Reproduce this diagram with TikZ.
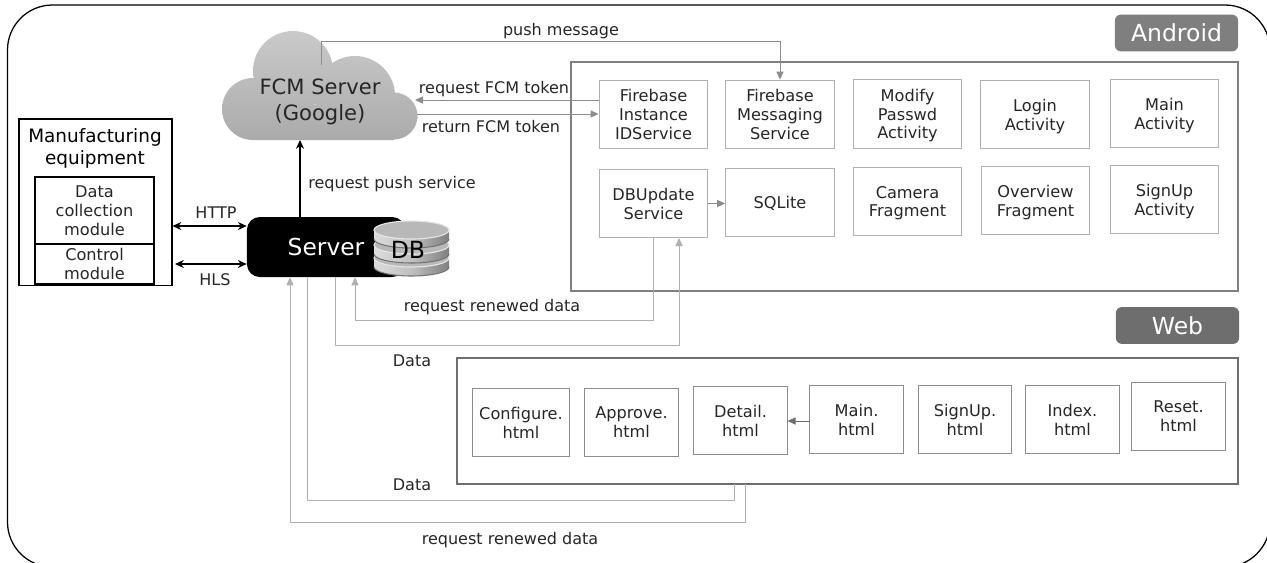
\documentclass[tikz,border=0pt]{standalone}
\usepackage{fontspec}
\usepackage{xcolor}
\usepackage{tikz}
\setmainfont{DejaVu Sans}
\usetikzlibrary{shapes,arrows,positioning,calc,arrows.meta}

\definecolor{linkgray}{HTML}{B0B0B0}
\definecolor{pushgray}{HTML}{8C8C8C}
\definecolor{framegray}{HTML}{7F7F7F}
\definecolor{webgray}{HTML}{6E6E6E}
\definecolor{textgray}{HTML}{262626}

\pgfdeclarehorizontalshading{dbside}{100bp}{
    color(0bp)=(black!42); color(22bp)=(black!12); color(50bp)=(black!25);
    color(80bp)=(black!55); color(100bp)=(black!68)}

\tikzset{
    compbox/.style={draw=linkgray, line width=0.75pt, minimum width=2.72cm, minimum height=1.72cm, inner sep=0pt, align=center, text depth=0pt, text=textgray, font=\fontsize{11.5}{13.4}\selectfont},
    webbox/.style={compbox, draw=pushgray, minimum width=2.33cm},
    tagbox/.style={rounded corners=0.15cm, minimum width=3.08cm, minimum height=0.92cm, inner sep=0pt, text=white, font=\fontsize{16.7}{19}\selectfont},
    linklabel/.style={inner sep=0pt, text=textgray, font=\fontsize{11.4}{13}\selectfont},
    graylink/.style={draw=linkgray, line width=0.7pt, -{Triangle[length=2mm,width=1.8mm]}},
    grayline/.style={draw=linkgray, line width=0.7pt},
    blacklink/.style={draw=black, line width=0.75pt, {Stealth[length=2.2mm,width=2mm]}-{Stealth[length=2.2mm,width=2mm]}}
}

\begin{document}
\begin{tikzpicture}[x=0.025cm, y=-0.025cm]
    \useasboundingbox (0,0) rectangle (1267,562);
    \clip (0,0) rectangle (1267,562);
    \draw[line width=0.9pt, rounded corners=1.125cm] (7.5,5) rectangle (1270,567);

    % Cloud
    \shade[top color=black!21, bottom color=black!33]
        (253,109) circle[radius=31] (293,71) circle[radius=40]
        (355,96) circle[radius=40] (394,116) circle[radius=23.5]
        (253,105) -- (394,105) -- (394,140) -- (253,140) -- cycle;
    \node[inner sep=0pt, align=center, text=textgray, font=\fontsize{15}{18.6}\selectfont] (fcm) at (320,102) {FCM Server\\(Google)};

    % Manufacturing equipment
    \node[draw, line width=0.75pt, minimum width=3.825cm, minimum height=4.15cm] (equipment) at (95.5,202) {};
    \node[inner sep=0pt, align=center, text=black, font=\fontsize{13.1}{15.6}\selectfont] (equiptitle) at (95,148) {Manufacturing\\equipment};
    \node[compbox, draw=black, minimum width=2.975cm, minimum height=1.675cm] (collect) at (94.5,210.5) {Data\\collection\\module};
    \node[compbox, draw=black, minimum width=2.975cm, minimum height=1cm] (control) at (94.5,264) {Control\\module};

    % Server and DB
    \node[fill=black, rounded corners=0.32cm, minimum width=3.95cm, minimum height=1.5cm, inner sep=0pt, text=white, font=\fontsize{16.6}{19}\selectfont] (server) at (326,247) {Server};
    \foreach \y in {258,245,230} {
        \shade[shading=dbside]
            (374,\y) -- (374,\y+9) arc[start angle=180, end angle=0, x radius=37.5, y radius=9] -- (449,\y) -- cycle;
        \draw[black!55, line width=0.75pt] (374,\y+9) arc[start angle=180, end angle=0, x radius=37.5, y radius=9];
        \fill[black!28, draw=black!10, line width=0.8pt] (411.5,\y) ellipse[x radius=37.5, y radius=9];
    }
    \node[inner sep=0pt, text=black, font=\fontsize{16.8}{19}\selectfont] (db) at (408,250) {DB};

    % Android
    \node[tagbox, fill=framegray] (androidtag) at (1176.5,33) {Android};
    \node[draw=framegray, line width=1.6pt, minimum width=16.675cm, minimum height=5.725cm] (android) at (904.5,176.5) {};
    \node[compbox] (firebase) at (653.5,114.5) {Firebase\\Instance\\IDService};
    \node[compbox] (messaging) at (780,114.5) {Firebase\\Messaging\\Service};
    \node[compbox] (modify) at (907.5,114) {Modify\\Passwd\\Activity};
    \node[compbox] (login) at (1035,114.5) {Login\\Activity};
    \node[compbox] (mainact) at (1164.5,113.5) {Main\\Activity};
    \node[compbox] (dbupdate) at (653.5,203.5) {DBUpdate\\Service};
    \node[compbox] (sqlite) at (780,202.5) {SQLite};
    \node[compbox] (camera) at (907.5,201.5) {Camera\\Fragment};
    \node[compbox] (overview) at (1035.5,200.5) {Overview\\Fragment};
    \node[compbox] (signupact) at (1164.5,199.5) {SignUp\\Activity};

    % Web
    \node[tagbox, fill=webgray] (webtag) at (1177.5,325.5) {Web};
    \node[draw=webgray, line width=1.6pt, minimum width=19.525cm, minimum height=3.15cm] (web) at (847.5,421) {};
    \node[webbox, minimum width=2.43cm] (configure) at (521,422.5) {Configure.\\html};
    \node[webbox] (approve) at (631.5,422.5) {Approve.\\html};
    \node[webbox] (detail) at (740.5,420.5) {Detail.\\html};
    \node[webbox] (mainhtml) at (856.5,419.5) {Main.\\html};
    \node[webbox] (signup) at (965,419.5) {SignUp.\\html};
    \node[webbox] (index) at (1072.5,419.5) {Index.\\html};
    \node[webbox] (reset) at (1178.5,416.5) {Reset.\\html};

    % Link ends
    \coordinate (pushstart) at (321,65);
    \coordinate (pushtop) at (321,41);
    \coordinate (cloudin) at (415,100);
    \coordinate (cloudout) at (417,114);
    \coordinate (cloudbase) at (300,140);
    \coordinate (httpend) at (172.5,226);
    \coordinate (hlsend) at (175,264);
    \coordinate (renewdrop) at (355,320);
    \coordinate (datadrop) at (335,345);
    \coordinate (dbin) at (679,238);
    \coordinate (webdrop) at (307.5,500);
    \coordinate (webdata) at (734,484);
    \coordinate (webreturn) at (290,522);
    \coordinate (webrenew) at (745,484);
    \coordinate (mainlink) at (810,421);

    % Links around the cloud
    \draw[graylink, draw=pushgray] (pushstart) -- (pushtop) -| (messaging.north);
    \draw[graylink, draw=pushgray] (firebase.west |- cloudin) -- (cloudin);
    \draw[graylink, draw=pushgray] (cloudout) -- (firebase.west |- cloudout);
    \draw[draw=black, line width=0.75pt, -{Stealth[length=2.2mm,width=2mm]}] (server.north -| cloudbase) -- (cloudbase);

    % Links to the equipment
    \draw[blacklink] (httpend) -- (server.west |- httpend);
    \draw[blacklink] (hlsend) -- (server.west |- hlsend);

    % Links inside the groups
    \draw[graylink, draw=pushgray] (dbupdate.east) -- (sqlite.west |- dbupdate.east);
    \draw[graylink, draw=webgray] (mainlink) -- (detail.east |- mainlink);

    % Links below the server
    \draw[graylink] (dbupdate.south) |- (renewdrop) -- (server.south -| renewdrop);
    \draw[graylink] (server.south -| datadrop) -- (datadrop) -| (dbin);
    \draw[grayline] (server.south -| webdrop) -- (webdrop) -| (webdata);
    \draw[graylink] (webrenew) |- (webreturn) -- (server.south -| webreturn);

    % Labels
    \node[linklabel] (pushlabel) at (561,31) {push message};
    \node[linklabel] (reqlabel) at (494,89) {request FCM token};
    \node[linklabel] (retlabel) at (491,127) {return FCM token};
    \node[linklabel] (servicelabel) at (392,184) {request push service};
    \node[linklabel] (httplabel) at (216,213) {HTTP};
    \node[linklabel] (hlslabel) at (215,280) {HLS};
    \node[linklabel] (renewlabel) at (492,307) {request renewed data};
    \node[linklabel] (datalabel) at (412,361) {Data};
    \node[linklabel] (webdatalabel) at (412,485) {Data};
    \node[linklabel] (webrenewlabel) at (510,540) {request renewed data};
\end{tikzpicture}
\end{document}
